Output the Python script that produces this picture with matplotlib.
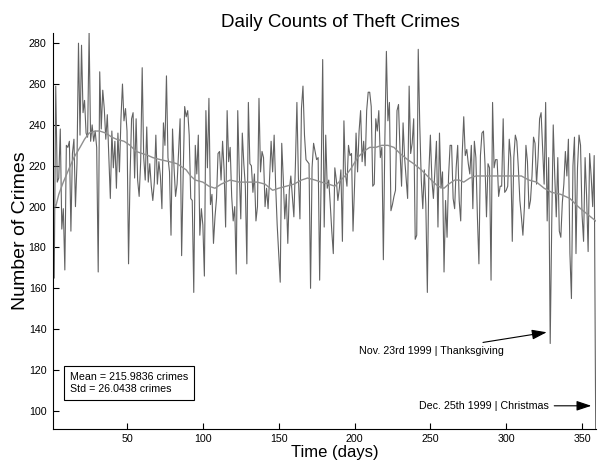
import numpy as np
import matplotlib
matplotlib.use("Agg")
import matplotlib.pyplot as plt

# daily theft counts, 1..359
counts = [
    176, 165, 259, 212, 214, 238, 189, 199, 169, 230,
    229, 232, 188, 226, 233, 200, 221, 280, 235, 279,
    246, 252, 236, 234, 285, 232, 240, 232, 237, 229,
    168, 266, 238, 257, 248, 233, 245, 225, 204, 237,
    219, 232, 209, 236, 217, 243, 260, 242, 248, 237,
    172, 215, 243, 246, 214, 243, 213, 205, 222, 268,
    224, 213, 239, 212, 221, 210, 203, 212, 235, 211,
    222, 215, 199, 241, 230, 264, 224, 217, 186, 238,
    219, 205, 211, 227, 243, 176, 215, 249, 244, 247,
    235, 204, 203, 158, 230, 216, 235, 186, 199, 191,
    166, 247, 219, 253, 201, 206, 182, 195, 204, 226,
    227, 213, 232, 218, 190, 247, 222, 229, 205, 193,
    200, 167, 247, 217, 194, 236, 221, 210, 172, 251,
    221, 220, 207, 216, 193, 200, 253, 217, 227, 224,
    200, 209, 199, 214, 232, 217, 235, 210, 191, 177,
    163, 231, 214, 194, 206, 182, 208, 215, 205, 195,
    220, 251, 214, 194, 248, 259, 235, 223, 222, 221,
    160, 219, 231, 227, 223, 224, 164, 215, 272, 190,
    235, 209, 213, 201, 188, 177, 219, 213, 203, 209,
    218, 183, 242, 216, 210, 230, 225, 226, 188, 210,
    236, 217, 237, 247, 222, 232, 220, 247, 256, 256,
    249, 210, 211, 243, 237, 247, 224, 229, 174, 233,
    276, 242, 251, 198, 201, 205, 208, 247, 250, 227,
    210, 241, 224, 214, 204, 259, 226, 231, 243, 184,
    186, 277, 240, 213, 199, 218, 201, 158, 217, 235,
    213, 204, 218, 232, 190, 236, 209, 217, 168, 203,
    185, 215, 230, 230, 204, 199, 219, 230, 203, 193,
    226, 244, 225, 228, 221, 216, 230, 199, 232, 224,
    195, 172, 225, 236, 237, 221, 195, 221, 219, 164,
    251, 219, 223, 223, 205, 210, 210, 243, 207, 208,
    210, 233, 224, 183, 224, 235, 232, 219, 203, 195,
    186, 200, 230, 222, 199, 203, 215, 234, 231, 211,
    224, 243, 246, 229, 211, 251, 193, 224, 133, 191,
    240, 215, 195, 224, 188, 185, 202, 211, 227, 215,
    233, 177, 155, 220, 234, 177, 219, 235, 230, 196,
    183, 224, 205, 178, 226, 215, 200, 225, 91,
]
days = list(range(1, len(counts) + 1))

# smoothed trend, read at selected days
trend_days = [1, 3, 5, 8, 12, 15, 19, 22, 25, 29, 32, 36, 40, 43, 48, 52, 56, 60,
              64, 67, 72, 78, 83, 89, 92, 95, 100, 104, 108, 112, 118, 124, 130,
              136, 141, 146, 150, 155, 160, 165, 169, 174, 178, 183, 187, 191, 195,
              198, 202, 206, 210, 214, 218, 222, 226, 230, 235, 239, 244, 248, 252,
              255, 259, 262, 266, 269, 272, 276, 280, 286, 292, 298, 304, 310, 315,
              320, 325, 330, 336, 342, 346, 349, 354, 359]
trend_vals = [203, 200, 206, 212, 219, 224, 229, 233, 236, 237, 237, 236, 234, 233,
              232, 230, 227, 226, 225, 224, 223, 222, 221, 218, 215, 213, 212, 210,
              209, 211, 213, 212, 212, 212, 211, 208, 209, 210, 211, 213, 214, 213,
              212, 211, 210, 213, 216, 219, 224, 227, 229, 229, 230, 230, 229, 226,
              223, 221, 218, 215, 212, 210, 209, 211, 213, 213, 212, 214, 215, 215,
              215, 215, 215, 215, 213, 212, 209, 207, 206, 204, 201, 199, 196, 193]

xticks = [50, 100, 150, 200, 250, 300, 350]
yticks = [100, 120, 140, 160, 180, 200, 220, 240, 260, 280]

plt.rcParams['font.family'] = ['Liberation Sans', 'DejaVu Sans']

fig = plt.figure(figsize=(6.03, 4.62), dpi=100)
ax = fig.add_axes([0.0874, 0.0708, 0.9005, 0.8578])

ax.plot(days, counts, color='#626262', linewidth=0.8)
ax.plot(trend_days, trend_vals, color='#8f8f8f', linewidth=1.0)

ax.set_xlim(days[0], days[-1])
ax.set_ylim(min(counts), max(counts))
ax.set_xticks(xticks)
ax.set_yticks(yticks)
ax.tick_params(direction='in', length=4, width=0.8, labelsize=7.7)
ax.tick_params(axis='x', pad=3.5)
ax.tick_params(axis='y', pad=4.5)
for side in ['top', 'right']:
    ax.spines[side].set_visible(False)
for side in ['left', 'bottom']:
    ax.spines[side].set_linewidth(0.8)

ax.set_title('Daily Counts of Theft Crimes', fontsize=13.5, pad=4.5, x=0.53)
ax.set_xlabel('Time (days)', fontsize=12, va='top')
ax.set_ylabel('Number of Crimes', fontsize=14)
ax.xaxis.set_label_coords(0.519, -0.039)
ax.yaxis.set_label_coords(-0.043, 0.5)

ax.text(0.032, 0.117, 'Mean = 215.9836 crimes\nStd = 26.0438 crimes',
        transform=ax.transAxes, ha='left', va='center', fontsize=7.7,
        linespacing=1.25,
        bbox=dict(boxstyle='square,pad=0.55', fc='white', ec='black', lw=0.8))

arrow = dict(arrowstyle='-|>,head_length=0.9,head_width=0.3', color='black',
             lw=0.8, mutation_scale=10, shrinkA=2, shrinkB=0)
ax.annotate('Nov. 23rd 1999 | Thanksgiving', xy=(326.7, 138.5), xytext=(298.5, 129.5),
            ha='right', va='center', fontsize=7.7, arrowprops=arrow)
ax.annotate('Dec. 25th 1999 | Christmas', xy=(356.1, 102.5), xytext=(328, 102.5),
            ha='right', va='center', fontsize=7.7, arrowprops=arrow)

fig.savefig('out.png', dpi=100)
